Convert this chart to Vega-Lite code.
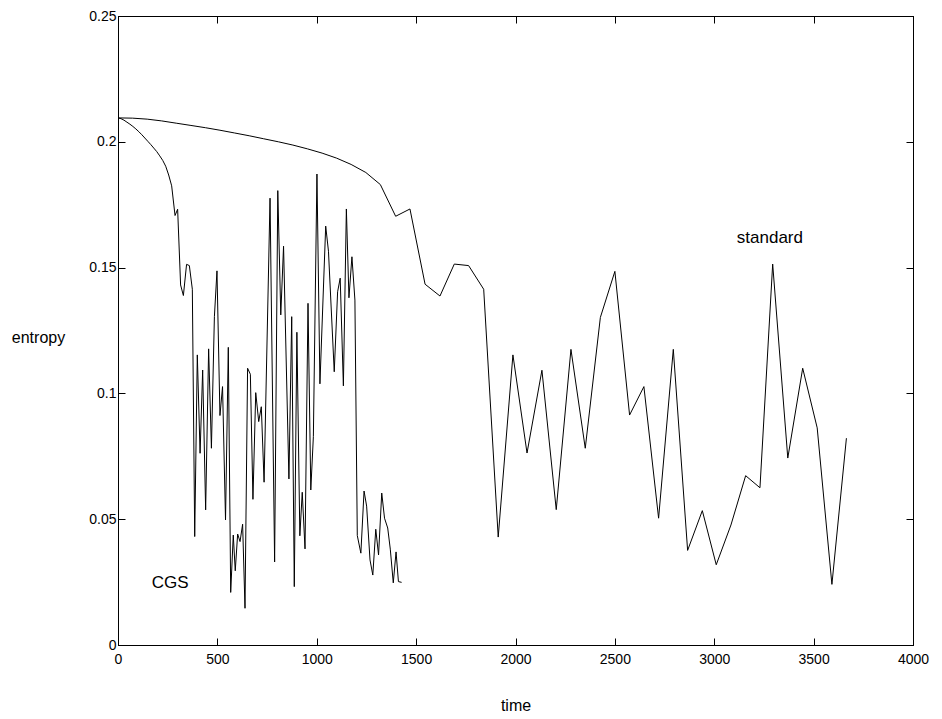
{
  "$schema": "https://vega.github.io/schema/vega-lite/v6.json",
  "width": 795,
  "height": 629,
  "autosize": {"type": "none"},
  "padding": {"left": 118, "top": 16, "right": 29, "bottom": 74},
  "background": "white",
  "config": {
    "view": {"stroke": "black", "strokeWidth": 1},
    "font": "Liberation Sans",
    "axis": {
      "grid": false,
      "domainColor": "black",
      "tickColor": "black",
      "tickSize": -7,
      "labelColor": "black",
      "labelFont": "Liberation Sans",
      "labelFontSize": 14,
      "titleFont": "Liberation Sans",
      "titleFontSize": 16,
      "titleFontWeight": "normal",
      "titleColor": "black"
    }
  },
  "resolve": {"axis": {"x": "independent", "y": "independent"}},
  "layer": [
    {
      "data": {
        "values": [
          {"series": "standard", "time": 0, "entropy": 0.2095},
          {"series": "standard", "time": 73, "entropy": 0.2094},
          {"series": "standard", "time": 147, "entropy": 0.209},
          {"series": "standard", "time": 220, "entropy": 0.2083},
          {"series": "standard", "time": 293, "entropy": 0.2074},
          {"series": "standard", "time": 367, "entropy": 0.2065},
          {"series": "standard", "time": 440, "entropy": 0.2056},
          {"series": "standard", "time": 513, "entropy": 0.2046},
          {"series": "standard", "time": 587, "entropy": 0.2035},
          {"series": "standard", "time": 660, "entropy": 0.2024},
          {"series": "standard", "time": 733, "entropy": 0.2012},
          {"series": "standard", "time": 807, "entropy": 0.2},
          {"series": "standard", "time": 880, "entropy": 0.1987},
          {"series": "standard", "time": 953, "entropy": 0.1972},
          {"series": "standard", "time": 1027, "entropy": 0.1955},
          {"series": "standard", "time": 1100, "entropy": 0.1935},
          {"series": "standard", "time": 1173, "entropy": 0.191},
          {"series": "standard", "time": 1247, "entropy": 0.1878},
          {"series": "standard", "time": 1320, "entropy": 0.183},
          {"series": "standard", "time": 1397, "entropy": 0.1704},
          {"series": "standard", "time": 1469, "entropy": 0.1733},
          {"series": "standard", "time": 1545, "entropy": 0.1434},
          {"series": "standard", "time": 1620, "entropy": 0.1387},
          {"series": "standard", "time": 1692, "entropy": 0.1514},
          {"series": "standard", "time": 1764, "entropy": 0.1508},
          {"series": "standard", "time": 1840, "entropy": 0.1414},
          {"series": "standard", "time": 1913, "entropy": 0.0429},
          {"series": "standard", "time": 1987, "entropy": 0.1153},
          {"series": "standard", "time": 2058, "entropy": 0.0763},
          {"series": "standard", "time": 2133, "entropy": 0.1092},
          {"series": "standard", "time": 2205, "entropy": 0.0538},
          {"series": "standard", "time": 2279, "entropy": 0.1175},
          {"series": "standard", "time": 2351, "entropy": 0.0782},
          {"series": "standard", "time": 2427, "entropy": 0.1302},
          {"series": "standard", "time": 2500, "entropy": 0.1485},
          {"series": "standard", "time": 2574, "entropy": 0.0914},
          {"series": "standard", "time": 2646, "entropy": 0.1027},
          {"series": "standard", "time": 2720, "entropy": 0.0504},
          {"series": "standard", "time": 2794, "entropy": 0.1175},
          {"series": "standard", "time": 2866, "entropy": 0.0376},
          {"series": "standard", "time": 2940, "entropy": 0.0534},
          {"series": "standard", "time": 3010, "entropy": 0.0319},
          {"series": "standard", "time": 3084, "entropy": 0.0477},
          {"series": "standard", "time": 3158, "entropy": 0.0673},
          {"series": "standard", "time": 3230, "entropy": 0.0625},
          {"series": "standard", "time": 3294, "entropy": 0.1514},
          {"series": "standard", "time": 3370, "entropy": 0.0743},
          {"series": "standard", "time": 3445, "entropy": 0.11},
          {"series": "standard", "time": 3518, "entropy": 0.0863},
          {"series": "standard", "time": 3592, "entropy": 0.0241},
          {"series": "standard", "time": 3665, "entropy": 0.0822},
          {"series": "CGS", "time": 0, "entropy": 0.2095},
          {"series": "CGS", "time": 15, "entropy": 0.2092},
          {"series": "CGS", "time": 30, "entropy": 0.2086},
          {"series": "CGS", "time": 45, "entropy": 0.2078},
          {"series": "CGS", "time": 60, "entropy": 0.207},
          {"series": "CGS", "time": 75, "entropy": 0.2061},
          {"series": "CGS", "time": 90, "entropy": 0.2051},
          {"series": "CGS", "time": 105, "entropy": 0.204},
          {"series": "CGS", "time": 120, "entropy": 0.2028},
          {"series": "CGS", "time": 135, "entropy": 0.2015},
          {"series": "CGS", "time": 150, "entropy": 0.2002},
          {"series": "CGS", "time": 165, "entropy": 0.1989},
          {"series": "CGS", "time": 180, "entropy": 0.1975},
          {"series": "CGS", "time": 195, "entropy": 0.1961},
          {"series": "CGS", "time": 210, "entropy": 0.1944},
          {"series": "CGS", "time": 225, "entropy": 0.1926},
          {"series": "CGS", "time": 240, "entropy": 0.1903},
          {"series": "CGS", "time": 255, "entropy": 0.1868},
          {"series": "CGS", "time": 270, "entropy": 0.1825},
          {"series": "CGS", "time": 287, "entropy": 0.1707},
          {"series": "CGS", "time": 300, "entropy": 0.1732},
          {"series": "CGS", "time": 315, "entropy": 0.1431},
          {"series": "CGS", "time": 329, "entropy": 0.1389},
          {"series": "CGS", "time": 345, "entropy": 0.1513},
          {"series": "CGS", "time": 359, "entropy": 0.1508},
          {"series": "CGS", "time": 374, "entropy": 0.1414},
          {"series": "CGS", "time": 386, "entropy": 0.0431},
          {"series": "CGS", "time": 399, "entropy": 0.1153},
          {"series": "CGS", "time": 413, "entropy": 0.0762},
          {"series": "CGS", "time": 426, "entropy": 0.1093},
          {"series": "CGS", "time": 441, "entropy": 0.0537},
          {"series": "CGS", "time": 456, "entropy": 0.1177},
          {"series": "CGS", "time": 470, "entropy": 0.0782},
          {"series": "CGS", "time": 485, "entropy": 0.1305},
          {"series": "CGS", "time": 498, "entropy": 0.1487},
          {"series": "CGS", "time": 513, "entropy": 0.0912},
          {"series": "CGS", "time": 526, "entropy": 0.1027},
          {"series": "CGS", "time": 541, "entropy": 0.0497},
          {"series": "CGS", "time": 555, "entropy": 0.1183},
          {"series": "CGS", "time": 567, "entropy": 0.0209},
          {"series": "CGS", "time": 580, "entropy": 0.0437},
          {"series": "CGS", "time": 590, "entropy": 0.0295},
          {"series": "CGS", "time": 602, "entropy": 0.0441},
          {"series": "CGS", "time": 614, "entropy": 0.0411},
          {"series": "CGS", "time": 627, "entropy": 0.048},
          {"series": "CGS", "time": 639, "entropy": 0.0146},
          {"series": "CGS", "time": 652, "entropy": 0.11},
          {"series": "CGS", "time": 666, "entropy": 0.1076},
          {"series": "CGS", "time": 679, "entropy": 0.0579},
          {"series": "CGS", "time": 693, "entropy": 0.1003},
          {"series": "CGS", "time": 708, "entropy": 0.0888},
          {"series": "CGS", "time": 721, "entropy": 0.0947},
          {"series": "CGS", "time": 735, "entropy": 0.0647},
          {"series": "CGS", "time": 765, "entropy": 0.1776},
          {"series": "CGS", "time": 788, "entropy": 0.033},
          {"series": "CGS", "time": 804, "entropy": 0.1806},
          {"series": "CGS", "time": 819, "entropy": 0.1312},
          {"series": "CGS", "time": 833, "entropy": 0.1585},
          {"series": "CGS", "time": 860, "entropy": 0.066},
          {"series": "CGS", "time": 874, "entropy": 0.1305},
          {"series": "CGS", "time": 887, "entropy": 0.0232},
          {"series": "CGS", "time": 900, "entropy": 0.1243},
          {"series": "CGS", "time": 915, "entropy": 0.0434},
          {"series": "CGS", "time": 927, "entropy": 0.0607},
          {"series": "CGS", "time": 941, "entropy": 0.0382},
          {"series": "CGS", "time": 956, "entropy": 0.1358},
          {"series": "CGS", "time": 970, "entropy": 0.0616},
          {"series": "CGS", "time": 983, "entropy": 0.0828},
          {"series": "CGS", "time": 1001, "entropy": 0.1872},
          {"series": "CGS", "time": 1016, "entropy": 0.1038},
          {"series": "CGS", "time": 1045, "entropy": 0.1665},
          {"series": "CGS", "time": 1059, "entropy": 0.1565},
          {"series": "CGS", "time": 1088, "entropy": 0.1086},
          {"series": "CGS", "time": 1105, "entropy": 0.1404},
          {"series": "CGS", "time": 1118, "entropy": 0.1458},
          {"series": "CGS", "time": 1134, "entropy": 0.103},
          {"series": "CGS", "time": 1149, "entropy": 0.1733},
          {"series": "CGS", "time": 1162, "entropy": 0.138},
          {"series": "CGS", "time": 1177, "entropy": 0.1543},
          {"series": "CGS", "time": 1192, "entropy": 0.1371},
          {"series": "CGS", "time": 1204, "entropy": 0.0435},
          {"series": "CGS", "time": 1222, "entropy": 0.0365},
          {"series": "CGS", "time": 1238, "entropy": 0.0612},
          {"series": "CGS", "time": 1251, "entropy": 0.0552},
          {"series": "CGS", "time": 1268, "entropy": 0.0338},
          {"series": "CGS", "time": 1282, "entropy": 0.0278},
          {"series": "CGS", "time": 1297, "entropy": 0.046},
          {"series": "CGS", "time": 1311, "entropy": 0.0358},
          {"series": "CGS", "time": 1327, "entropy": 0.0604},
          {"series": "CGS", "time": 1341, "entropy": 0.0504},
          {"series": "CGS", "time": 1357, "entropy": 0.0465},
          {"series": "CGS", "time": 1370, "entropy": 0.0381},
          {"series": "CGS", "time": 1385, "entropy": 0.0247},
          {"series": "CGS", "time": 1399, "entropy": 0.037},
          {"series": "CGS", "time": 1411, "entropy": 0.0252},
          {"series": "CGS", "time": 1427, "entropy": 0.0249}
        ]
      },
      "mark": {"type": "line", "color": "black", "strokeWidth": 1, "clip": true},
      "encoding": {
        "x": {
          "field": "time", "type": "quantitative",
          "scale": {"domain": [0, 4000], "nice": false, "zero": false},
          "axis": {
            "orient": "bottom", "values": [0, 500, 1000, 1500, 2000, 2500, 3000, 3500, 4000],
            "format": "d", "title": "time", "labelPadding": 14,
            "titleY": 60, "titleBaseline": "middle", "labelFlush": false
          }
        },
        "y": {
          "field": "entropy", "type": "quantitative",
          "scale": {"domain": [0, 0.25], "nice": false, "zero": false},
          "axis": {
            "orient": "left", "values": [0, 0.05, 0.1, 0.15, 0.2, 0.25],
            "format": "~g", "title": "entropy", "titleAngle": 0,
            "titleX": -80, "titleY": 321, "titleAlign": "center", "titleBaseline": "middle",
            "labelPadding": 9, "labelFlush": false
          }
        },
        "detail": {"field": "series", "type": "nominal"}
      }
    },
    {
      "data": {
        "values": [
          {"label": "CGS", "time": 262, "entropy": 0.0246},
          {"label": "standard", "time": 3280, "entropy": 0.1618}
        ]
      },
      "mark": {"type": "text", "color": "black", "fontSize": 17, "font": "Liberation Sans", "align": "center", "baseline": "middle"},
      "encoding": {
        "x": {
          "field": "time", "type": "quantitative",
          "scale": {"domain": [0, 4000], "nice": false, "zero": false},
          "axis": {"orient": "top", "values": [0, 500, 1000, 1500, 2000, 2500, 3000, 3500, 4000], "labels": false, "title": null}
        },
        "y": {
          "field": "entropy", "type": "quantitative",
          "scale": {"domain": [0, 0.25], "nice": false, "zero": false},
          "axis": {"orient": "right", "values": [0, 0.05, 0.1, 0.15, 0.2, 0.25], "labels": false, "title": null}
        },
        "text": {"field": "label", "type": "nominal"}
      }
    }
  ]
}
